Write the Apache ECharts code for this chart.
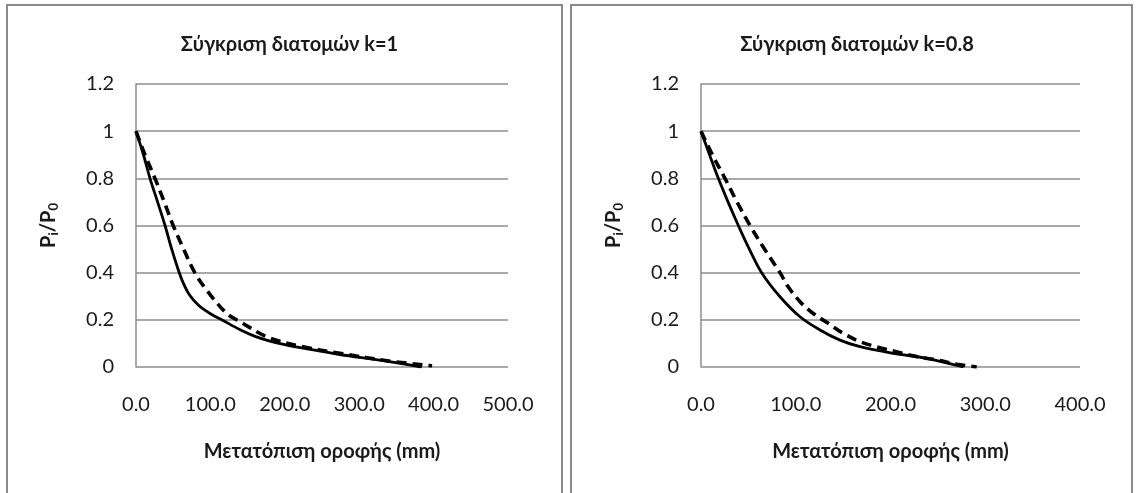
<!DOCTYPE html>
<html><head><meta charset="utf-8">
<script src="https://cdn.jsdelivr.net/npm/echarts@6/dist/echarts.min.js"></script>
<style>html,body{margin:0;padding:0;background:#fff}#c{width:1136px;height:493px}</style>
</head><body><div id="c"></div>
<script>
const titles = ['Σύγκριση διατομών k=1', 'Σύγκριση διατομών k=0.8'];
const xAxisName = 'Μετατόπιση οροφής (mm)';
const xMax = [500, 400];
// k=1
const k1SolidX = [0, 10, 18.8, 29, 39, 48, 56, 63, 72, 84, 100, 117, 140, 160, 180, 200, 230, 274, 330, 384];
const k1SolidY = [1, 0.9, 0.8, 0.7, 0.6, 0.5, 0.42, 0.36, 0.305, 0.262, 0.226, 0.197, 0.158, 0.13, 0.11, 0.095, 0.077, 0.053, 0.028, 0];
const k1DashX = [0, 12, 25.5, 38, 50, 64, 79, 95, 122, 140, 176, 220, 274, 346, 398];
const k1DashY = [1, 0.9, 0.8, 0.7, 0.6, 0.5, 0.4, 0.326, 0.227, 0.192, 0.128, 0.089, 0.058, 0.023, 0.005];
// k=0.8
const k08SolidX = [0, 9, 18.3, 28.5, 39.4, 51, 64, 83.4, 104.5, 125.6, 146.7, 167.8, 203, 238, 277];
const k08SolidY = [1, 0.9, 0.8, 0.7, 0.6, 0.5, 0.4, 0.298, 0.213, 0.157, 0.114, 0.086, 0.058, 0.037, 0];
const k08DashX = [0, 12, 25.3, 38, 51.7, 67, 83.4, 92, 104.5, 118.5, 134.4, 150, 168, 185, 206, 228, 249, 270, 291];
const k08DashY = [1, 0.9, 0.8, 0.7, 0.6, 0.5, 0.4, 0.34, 0.277, 0.227, 0.185, 0.143, 0.107, 0.086, 0.065, 0.044, 0.03, 0.012, 0];

const zip = (xs, ys) => xs.map((x, i) => [x, ys[i]]);
const FONT = 'Lato';
const grids = [
  {left: 136, top: 84, width: 372, height: 283},
  {left: 701, top: 84, width: 379, height: 283}
];
const panelCenters = [284.5, 852];
const chart = echarts.init(document.getElementById('c'));
const xAxes = [], yAxes = [], series = [], titleOpts = [];
[0, 1].forEach(i => {
  titleOpts.push({
    text: titles[i], left: panelCenters[i], top: 30, textAlign: 'center',
    textStyle: {fontFamily: FONT, fontWeight: 'bold', fontSize: 20, color: '#1a1a1a'}
  });
  xAxes.push({
    type: 'value', gridIndex: i, min: 0, max: xMax[i], interval: 100,
    name: xAxisName, nameLocation: 'middle', nameGap: 75,
    nameTextStyle: {fontFamily: FONT, fontWeight: 'bold', fontSize: 20, color: '#1a1a1a'},
    axisLine: {show: false}, axisTick: {show: false}, splitLine: {show: false},
    axisLabel: {margin: 28, fontFamily: FONT, fontSize: 20, color: '#1a1a1a', formatter: v => v.toFixed(1)}
  });
  yAxes.push({
    type: 'value', gridIndex: i, min: 0, max: 1.2, interval: 0.2,
    name: '{a|P}{s|i}{a|/P}{s|0}', nameLocation: 'middle', nameGap: 76,
    nameTextStyle: {rich: {
      a: {fontFamily: FONT, fontWeight: 'bold', fontSize: 20, color: '#1a1a1a'},
      s: {fontFamily: FONT, fontWeight: 'bold', fontSize: 13, color: '#1a1a1a', padding: [9, 0, 0, 0]}
    }},
    axisLine: {show: true, lineStyle: {color: '#8c8c8c', width: 1.5}},
    axisTick: {show: false},
    splitLine: {show: true, lineStyle: {color: '#8c8c8c', width: 1.5}},
    axisLabel: {margin: 22, fontFamily: FONT, fontSize: 20, color: '#1a1a1a', formatter: v => String(+v.toFixed(1))}
  });
});
const solidStyle = {color: '#000', width: 2.8};
const dashStyle = {color: '#000', width: 3.6, type: [10, 6], cap: 'butt'};
series.push(
  {type: 'line', xAxisIndex: 0, yAxisIndex: 0, data: zip(k1SolidX, k1SolidY), smooth: 0.35, showSymbol: false, lineStyle: solidStyle, silent: true},
  {type: 'line', xAxisIndex: 0, yAxisIndex: 0, data: zip(k1DashX, k1DashY), smooth: 0.35, showSymbol: false, lineStyle: dashStyle, silent: true},
  {type: 'line', xAxisIndex: 1, yAxisIndex: 1, data: zip(k08SolidX, k08SolidY), smooth: 0.35, showSymbol: false, lineStyle: solidStyle, silent: true},
  {type: 'line', xAxisIndex: 1, yAxisIndex: 1, data: zip(k08DashX, k08DashY), smooth: 0.35, showSymbol: false, lineStyle: dashStyle, silent: true}
);
chart.setOption({
  animation: false,
  backgroundColor: '#fff',
  title: titleOpts,
  grid: grids,
  xAxis: xAxes,
  yAxis: yAxes,
  series: series,
  graphic: [
    {type: 'rect', shape: {x: 7, y: 5, width: 555, height: 520}, style: {fill: null, stroke: '#8a8a8a', lineWidth: 2}, silent: true, z: -1},
    {type: 'rect', shape: {x: 571, y: 5, width: 561, height: 520}, style: {fill: null, stroke: '#8a8a8a', lineWidth: 2}, silent: true, z: -1}
  ]
});
</script></body></html>
